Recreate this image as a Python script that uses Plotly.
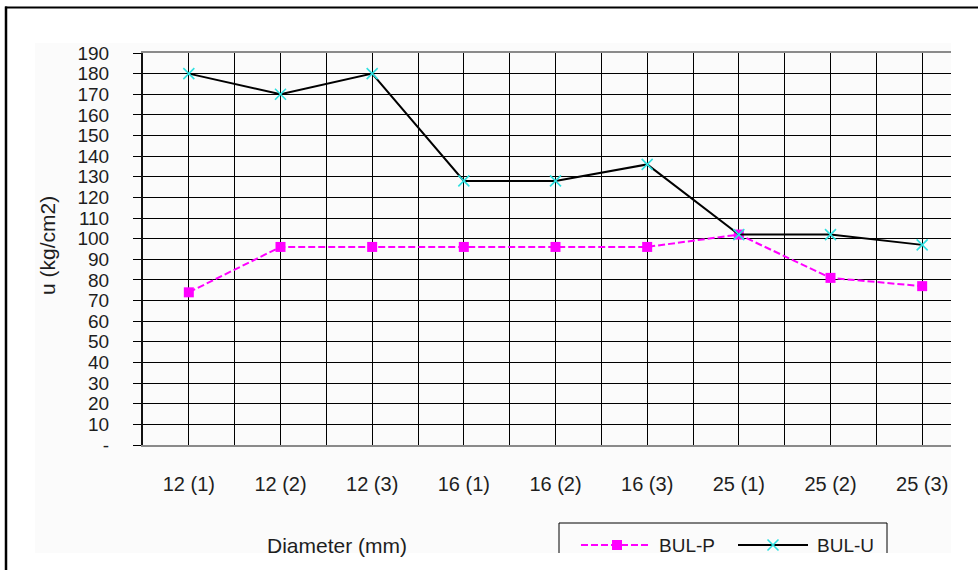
import plotly.graph_objects as go

# Bond stress by bar diameter (specimen number in brackets)
categories = ["12 (1)", "12 (2)", "12 (3)", "16 (1)", "16 (2)", "16 (3)", "25 (1)", "25 (2)", "25 (3)"]
bul_p = [74, 96, 96, 96, 96, 96, 102, 81, 77]
bul_u = [180, 170, 180, 128, 128, 136, 102, 102, 97]
y_ticks = list(range(0, 200, 10))
y_ticktext = ["-" if v == 0 else str(v) for v in y_ticks]

W, H = 978, 570
FONT = "Liberation Sans, Arial, sans-serif"
TXT = "#1e1e1e"
MAGENTA = "#ff00ff"
CYAN = "#2ee0e0"


def px(x):
    return x / W


def py(y):
    return 1 - y / H


xs = list(range(len(categories)))

fig = go.Figure()

fig.add_trace(go.Scatter(
    x=xs, y=bul_p, name="BUL-P", mode="lines+markers",
    line=dict(color=MAGENTA, width=2, dash="7px,3px"),
    marker=dict(symbol="square", size=10, color=MAGENTA),
    showlegend=False,
))
fig.add_trace(go.Scatter(
    x=xs, y=bul_u, name="BUL-U", mode="lines+markers",
    line=dict(color="#000000", width=2),
    marker=dict(symbol="x-thin", size=11, line=dict(color=CYAN, width=1.6)),
    showlegend=False,
))

# Legend samples, drawn on a pixel-scaled overlay axis pair
leg_y = 545
fig.add_trace(go.Scatter(
    x=[581, 650], y=[leg_y, leg_y], mode="lines", xaxis="x2", yaxis="y2",
    line=dict(color=MAGENTA, width=2, dash="7px,3px"), showlegend=False, hoverinfo="skip",
))
fig.add_trace(go.Scatter(
    x=[617], y=[leg_y], mode="markers", xaxis="x2", yaxis="y2",
    marker=dict(symbol="square", size=10, color=MAGENTA), showlegend=False, hoverinfo="skip",
))
fig.add_trace(go.Scatter(
    x=[738, 808], y=[leg_y, leg_y], mode="lines", xaxis="x2", yaxis="y2",
    line=dict(color="#000000", width=2), showlegend=False, hoverinfo="skip",
))
fig.add_trace(go.Scatter(
    x=[773], y=[leg_y], mode="markers", xaxis="x2", yaxis="y2",
    marker=dict(symbol="x-thin", size=11, line=dict(color=CYAN, width=1.6)),
    showlegend=False, hoverinfo="skip",
))

shapes = [
    # light chart-area background
    dict(type="rect", xref="paper", yref="paper", x0=px(35), x1=px(951), y0=py(553), y1=py(43),
         fillcolor="#fbfbfb", line=dict(width=0), layer="below"),
    # legend frame
    dict(type="rect", xref="paper", yref="paper", x0=px(559), x1=px(887), y0=py(600), y1=py(523),
         fillcolor="rgba(0,0,0,0)", line=dict(color="#000000", width=1), layer="above"),
    # clipped edges of the chart picture
    dict(type="rect", xref="paper", yref="paper", x0=px(951), x1=px(W + 2), y0=py(H + 2), y1=py(10),
         fillcolor="#ffffff", line=dict(width=0), layer="above"),
    dict(type="rect", xref="paper", yref="paper", x0=px(8), x1=px(W + 2), y0=py(H + 2), y1=py(553),
         fillcolor="#ffffff", line=dict(width=0), layer="above"),
    # outer frame
    dict(type="line", xref="paper", yref="paper", x0=px(6), x1=px(6), y0=py(H + 2), y1=py(6.5),
         line=dict(color="#000000", width=2.5), layer="above"),
    dict(type="line", xref="paper", yref="paper", x0=px(5), x1=px(W + 2), y0=py(7.5), y1=py(7.5),
         line=dict(color="#000000", width=2), layer="above"),
]

annotations = [
    dict(text="u (kg/cm2)", xref="paper", yref="paper", x=px(47), y=py(246), textangle=-90,
         showarrow=False, font=dict(family=FONT, size=21, color=TXT), xanchor="center", yanchor="middle"),
    dict(text="Diameter (mm)", xref="paper", yref="paper", x=px(337), y=py(545),
         showarrow=False, font=dict(family=FONT, size=21, color=TXT), xanchor="center", yanchor="middle"),
    dict(text="BUL-P", xref="paper", yref="paper", x=px(657), y=py(leg_y),
         showarrow=False, font=dict(family=FONT, size=19, color=TXT), xanchor="left", yanchor="middle"),
    dict(text="BUL-U", xref="paper", yref="paper", x=px(815), y=py(leg_y),
         showarrow=False, font=dict(family=FONT, size=19, color=TXT), xanchor="left", yanchor="middle"),
]

fig.update_layout(
    width=W, height=H,
    margin=dict(l=0, r=0, t=0, b=0, autoexpand=False),
    paper_bgcolor="#ffffff",
    plot_bgcolor="rgba(0,0,0,0)",
    font=dict(family=FONT, size=19, color=TXT),
    shapes=shapes,
    annotations=annotations,
    xaxis=dict(
        domain=[px(143), px(968)],
        range=[-0.5, len(categories) - 0.5],
        tickmode="array", tickvals=xs, ticktext=categories,
        showgrid=True, gridcolor="#000000", gridwidth=1,
        minor=dict(tickmode="linear", tick0=-0.5, dtick=0.5, showgrid=True,
                   gridcolor="#000000", gridwidth=1, ticks=""),
        ticks="", ticklabelstandoff=20,
        showline=True, linecolor="#8a8a8a", linewidth=2, mirror=True,
        zeroline=False, fixedrange=True,
        tickfont=dict(family=FONT, size=20, color=TXT),
    ),
    yaxis=dict(
        domain=[py(445), py(53)],
        range=[0, 190],
        tickmode="array", tickvals=y_ticks, ticktext=y_ticktext,
        showgrid=True, gridcolor="#000000", gridwidth=1,
        ticks="outside", ticklen=8, tickcolor="#000000", tickwidth=1,
        ticklabelstandoff=20,
        showline=True, linecolor="#111111", linewidth=2,
        zeroline=False, fixedrange=True,
        tickfont=dict(family=FONT, size=19, color=TXT),
    ),
    xaxis2=dict(domain=[0, 1], range=[0, W], visible=False, fixedrange=True, anchor="y2"),
    yaxis2=dict(domain=[0, 1], range=[H, 0], visible=False, fixedrange=True, anchor="x2"),
)

fig.write_html("out.html")
